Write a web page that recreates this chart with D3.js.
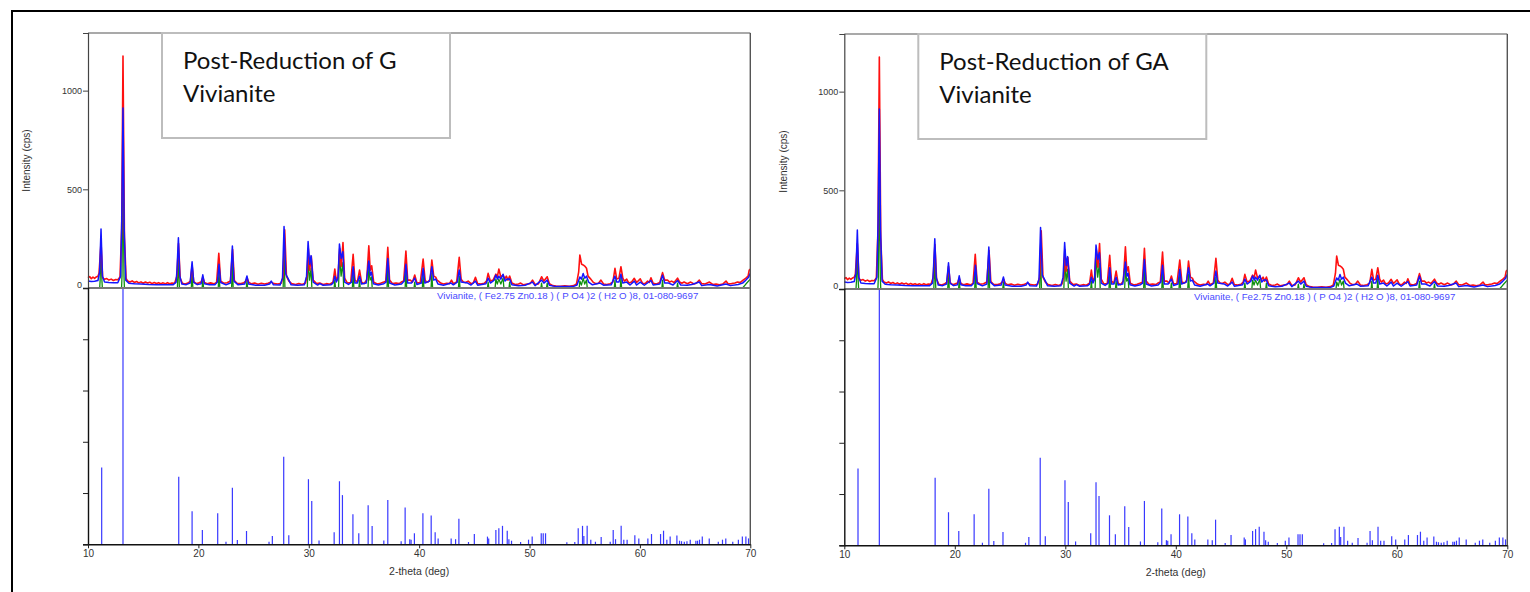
<!DOCTYPE html>
<html>
<head>
<meta charset="utf-8">
<script src="https://cdn.jsdelivr.net/npm/d3@7"></script>
<style>
  html, body { margin: 0; padding: 0; background: #fff; }
  svg { display: block; }
</style>
</head>
<body>
<svg id="chart" width="1530" height="592"></svg>
<script>
// Measured scans, [2-theta (deg), intensity (cps)]
const redScan = [
[10.0,52],[10.15,58],[10.3,47],[10.45,55],[10.6,49],[10.75,56],[10.9,60],[11.0,75],[11.18,230],[11.33,52],[11.5,44],[11.7,48],[11.9,40],[12.1,45],[12.3,38],[12.5,43],[12.7,42],[12.9,55],[13.05,300],[13.17,1175],[13.3,260],[13.45,48],[13.6,35],[13.8,30],[14.0,36],[14.2,28],[14.4,33],[14.6,26],[14.8,31],[15.0,24],[15.2,30],[15.4,25],[15.6,29],[15.8,22],[16.0,28],[16.2,23],[16.4,27],[16.6,22],[16.8,26],[17.0,21],[17.2,27],[17.4,22],[17.6,25],[17.85,24],[18.05,60],[18.2,225],[18.35,50],[18.55,24],[18.8,20],[19.05,25],[19.28,35],[19.43,115],[19.58,32],[19.8,22],[20.05,26],[20.25,30],[20.4,55],[20.55,28],[20.8,22],[21.1,26],[21.4,21],[21.65,28],[21.85,176],[22.02,35],[22.3,24],[22.6,27],[22.9,35],[23.1,195],[23.26,38],[23.5,24],[23.8,22],[24.1,26],[24.3,35],[24.42,50],[24.55,30],[24.8,21],[25.1,25],[25.4,19],[25.7,24],[26.0,20],[26.3,24],[26.6,30],[26.85,22],[27.2,20],[27.5,24],[27.68,60],[27.82,295],[27.98,60],[28.2,35],[28.45,22],[28.8,18],[29.1,23],[29.4,18],[29.7,25],[29.84,60],[29.96,200],[30.08,90],[30.23,160],[30.4,40],[30.7,22],[31.0,25],[31.3,18],[31.6,22],[31.9,19],[32.2,30],[32.36,96],[32.5,35],[32.65,60],[32.8,200],[32.95,110],[33.1,230],[33.25,50],[33.5,25],[33.8,28],[34.02,171],[34.18,40],[34.4,30],[34.6,91],[34.78,30],[35.0,22],[35.25,40],[35.44,214],[35.57,90],[35.7,113],[35.88,30],[36.2,20],[36.5,24],[36.8,30],[36.98,35],[37.16,206],[37.32,40],[37.6,22],[37.9,25],[38.2,22],[38.38,30],[38.6,35],[38.8,187],[38.96,40],[39.2,40],[39.4,30],[39.6,66],[39.8,25],[40.1,28],[40.36,147],[40.55,35],[40.8,30],[41.0,45],[41.15,142],[41.32,60],[41.5,55],[41.62,40],[41.75,35],[41.95,25],[42.2,20],[42.5,24],[42.75,22],[42.93,40],[43.1,22],[43.4,30],[43.63,155],[43.8,45],[44.0,30],[44.2,28],[44.44,35],[44.7,22],[44.9,25],[45.1,54],[45.3,22],[45.6,20],[45.9,24],[46.1,35],[46.25,74],[46.45,35],[46.7,40],[46.95,70],[47.08,55],[47.22,96],[47.4,55],[47.6,66],[47.75,45],[47.9,60],[48.05,40],[48.2,61],[48.4,25],[48.7,18],[49.0,20],[49.2,25],[49.45,16],[49.8,20],[50.05,22],[50.27,40],[50.5,18],[50.8,20],[51.09,57],[51.3,35],[51.6,57],[51.8,22],[52.1,12],[52.4,10],[52.8,9],[53.2,11],[53.6,9],[54.0,12],[54.25,20],[54.45,80],[54.56,167],[54.72,120],[54.86,117],[55.0,111],[55.16,100],[55.3,60],[55.55,45],[55.75,30],[56.0,22],[56.25,24],[56.47,40],[56.7,20],[57.0,18],[57.3,22],[57.55,30],[57.74,100],[57.9,45],[58.1,50],[58.28,108],[58.45,50],[58.6,35],[58.8,45],[59.0,25],[59.25,30],[59.49,49],[59.7,28],[60.03,46],[60.25,22],[60.5,24],[60.7,35],[60.85,28],[61.0,52],[61.2,24],[61.5,20],[61.8,28],[62.05,78],[62.25,40],[62.5,40],[62.7,30],[62.87,35],[63.1,28],[63.41,50],[63.6,30],[63.8,24],[64.0,30],[64.3,22],[64.6,30],[64.9,20],[65.1,24],[65.38,40],[65.6,22],[65.9,20],[66.3,30],[66.6,18],[66.9,20],[67.2,16],[67.5,20],[67.8,35],[68.0,20],[68.3,22],[68.6,25],[68.85,30],[69.1,28],[69.35,40],[69.6,50],[69.8,60],[69.9,91],[70.0,95]
];

const blueScan = [
[10.0,35],[10.3,33],[10.6,34],[10.9,38],[11.05,80],[11.18,299],[11.31,60],[11.5,30],[11.9,28],[12.3,27],[12.7,27],[12.95,60],[13.06,350],[13.17,912],[13.28,300],[13.42,40],[13.7,24],[14.2,21],[14.8,20],[15.5,18],[16.2,17],[17.0,16],[17.7,16],[17.98,30],[18.06,90],[18.19,255],[18.32,60],[18.5,20],[18.9,17],[19.25,25],[19.43,133],[19.58,28],[19.9,17],[20.25,22],[20.4,67],[20.55,22],[21.0,16],[21.5,17],[21.72,30],[21.87,120],[22.02,28],[22.5,16],[22.9,25],[23.08,213],[23.22,35],[23.6,16],[24.2,20],[24.4,61],[24.55,20],[25.2,14],[26.0,14],[26.45,20],[26.6,35],[26.8,16],[27.4,15],[27.62,50],[27.76,311],[27.92,70],[28.2,40],[28.4,16],[29.0,14],[29.6,16],[29.8,60],[29.94,235],[30.08,120],[30.21,164],[30.4,30],[30.8,15],[31.0,22],[31.3,14],[32.0,16],[32.2,25],[32.36,60],[32.5,30],[32.65,50],[32.78,223],[32.94,150],[33.09,184],[33.25,30],[33.6,18],[33.88,30],[34.02,108],[34.18,25],[34.4,25],[34.6,60],[34.78,20],[35.2,25],[35.44,137],[35.57,65],[35.68,80],[35.85,22],[36.3,15],[36.8,22],[37.0,30],[37.16,150],[37.32,25],[37.8,15],[38.4,20],[38.65,35],[38.8,120],[38.96,25],[39.3,25],[39.6,50],[39.8,18],[40.2,25],[40.36,100],[40.52,25],[40.95,35],[41.15,108],[41.32,40],[41.5,45],[41.7,20],[42.2,14],[42.9,25],[43.1,16],[43.45,30],[43.63,91],[43.8,30],[44.4,25],[44.7,15],[45.1,35],[45.3,14],[46.05,22],[46.25,50],[46.45,25],[46.8,40],[46.95,66],[47.1,45],[47.22,60],[47.4,45],[47.6,70],[47.78,35],[47.95,45],[48.2,45],[48.4,16],[49.0,12],[49.6,14],[50.27,30],[50.5,12],[51.09,40],[51.3,25],[51.6,40],[51.8,14],[52.4,7],[53.2,7],[54.0,8],[54.3,15],[54.56,56],[54.7,45],[54.86,74],[55.0,50],[55.16,60],[55.35,30],[55.7,16],[56.4,25],[56.7,14],[57.4,16],[57.74,60],[57.9,30],[58.1,30],[58.28,70],[58.45,25],[58.8,30],[59.1,15],[59.5,35],[59.7,15],[60.03,30],[60.4,14],[61.0,38],[61.2,15],[61.8,20],[62.05,65],[62.25,25],[62.6,25],[63.0,15],[63.41,38],[63.7,15],[64.3,14],[64.7,18],[65.38,30],[65.6,12],[66.3,18],[67.0,10],[67.8,20],[68.2,12],[68.9,18],[69.3,25],[69.6,40],[69.85,55],[70.0,75]
];

const greenScan = [
[10.0,0],[11.06,0],[11.1,40],[11.18,190],[11.26,40],[11.3,0],[13.04,0],[13.08,60],[13.17,610],[13.26,60],[13.3,0],[18.1,0],[18.19,160],[18.28,0],[19.36,0],[19.43,85],[19.5,0],[20.34,0],[20.4,40],[20.47,0],[21.8,0],[21.87,90],[21.94,0],[23.01,0],[23.08,140],[23.15,0],[24.34,0],[24.4,35],[24.46,0],[27.68,0],[27.76,200],[27.84,0],[29.87,0],[29.94,150],[30.07,40],[30.21,100],[30.28,0],[32.3,0],[32.36,40],[32.42,0],[32.7,0],[32.78,170],[32.93,60],[33.09,130],[33.16,0],[33.95,0],[34.02,75],[34.09,0],[34.54,0],[34.6,40],[34.66,0],[35.37,0],[35.44,100],[35.56,40],[35.68,55],[35.75,0],[37.09,0],[37.16,110],[37.23,0],[38.73,0],[38.8,90],[38.87,0],[39.54,0],[39.6,30],[39.66,0],[40.29,0],[40.36,70],[40.43,0],[41.08,0],[41.15,75],[41.22,0],[43.56,0],[43.63,60],[43.7,0],[46.19,0],[46.25,30],[46.31,0],[46.88,0],[46.95,45],[47.08,20],[47.22,45],[47.4,20],[47.6,50],[47.68,0],[48.14,0],[48.2,30],[48.26,0],[51.03,0],[51.09,25],[51.15,0],[51.54,0],[51.6,25],[51.66,0],[54.5,0],[54.56,35],[54.7,15],[54.86,50],[55.0,20],[55.16,40],[55.23,0],[57.68,0],[57.74,40],[57.8,0],[58.22,0],[58.28,50],[58.34,0],[61.99,0],[62.05,40],[62.11,0],[63.35,0],[63.41,25],[63.47,0],[69.3,0],[69.6,20],[70.0,45]
];

// Reference pattern 01-080-9697 (Vivianite): positions (deg) and relative intensities (%)
const stickPos = [11.24,13.17,18.22,19.43,20.36,21.75,22.5,23.08,23.53,24.36,26.4,26.7,27.73,28.19,29.97,30.27,30.93,32.3,32.78,33.05,34.0,34.53,35.38,35.74,36.8,37.16,38.37,38.73,39.15,39.27,39.57,40.34,41.09,41.45,41.72,42.9,43.3,43.6,44.47,45.0,46.19,46.3,46.95,47.22,47.55,47.98,48.13,48.37,49.19,49.91,50.24,51.06,51.24,51.45,53.38,54.1,54.41,54.8,54.92,55.22,55.55,55.97,56.49,57.31,57.58,57.79,58.3,58.54,58.84,59.54,59.9,60.72,61.05,61.87,62.14,62.44,62.74,63.35,63.59,63.77,64.02,64.26,64.56,65.07,65.22,65.4,65.65,66.28,67.1,67.48,67.78,68.41,68.92,69.28,69.6,69.84];
const stickInt = [30,100,26.4,12.9,5.6,12.1,1,22.1,1.7,5.2,1,3.2,34.2,3.5,25.4,16.9,1.5,4.7,24.6,19.2,11.7,4.3,15.2,7.1,1.5,17.3,1.2,14.4,2,1.8,4.3,12.1,11.2,4.7,2.3,2.3,2,10,0.9,4,3,2.3,5.6,6.3,7.2,5.3,2,1.4,0.9,1.8,3,4.3,4.3,4.3,0.8,0.9,6.3,7.2,3.2,7.2,1.8,1,2.8,1,5.6,2,7.2,1.8,1.8,3.5,2.3,2.3,4,4,5.3,1.8,3,3.4,1.4,1.2,1,1.2,1.8,1.4,1.4,1.8,3,2.3,1,1.8,2.3,1,1.8,3,3,2.3];

const xTicks = [10, 20, 30, 40, 50, 60, 70];
const yTicks = [0, 500, 1000];
const refTicks = [0, 20, 40, 60, 80, 100];

const panelTitles = [
  ["Post-Reduction of G", "Vivianite"],
  ["Post-Reduction of GA", "Vivianite"]
];
const refLabel = "Vivianite, ( Fe2.75 Zn0.18 ) ( P O4 )2 ( H2 O )8, 01-080-9697";

const svg = d3.select("#chart");
svg.append("rect").attr("width", 1530).attr("height", 592).attr("fill", "#fff");

// outer frame
svg.append("line").attr("x1", 11).attr("x2", 1530).attr("y1", 11).attr("y2", 11)
  .attr("stroke", "#000").attr("stroke-width", 2);
svg.append("line").attr("x1", 12).attr("x2", 12).attr("y1", 10).attr("y2", 592)
  .attr("stroke", "#000").attr("stroke-width", 2);

function drawPanel(left, right, dy, title) {
  const top = 33 + dy, mid = 288 + dy, bottom = 544.3 + dy;
  const g = svg.append("g");

  const x = d3.scaleLinear().domain([10, 70]).range([left, right]);
  const y = d3.scaleLinear().domain([0, 1292]).range([mid, top]);
  const yRef = d3.scaleLinear().domain([0, 100]).range([bottom, mid]);

  const line = d3.line().x(d => x(d[0])).y(d => y(d[1]));

  const scans = [
    { data: greenScan, color: "#109010", w: 1.3 },
    { data: redScan, color: "#ff1010", w: 1.6 },
    { data: blueScan, color: "#1515ff", w: 1.5 }
  ];
  scans.forEach(s => {
    g.append("path").datum(s.data).attr("d", line)
      .attr("fill", "none").attr("stroke", s.color)
      .attr("stroke-width", s.w).attr("stroke-linejoin", "round");
  });

  // reference sticks
  g.append("g").selectAll("line").data(stickPos).join("line")
    .attr("x1", d => x(d)).attr("x2", d => x(d))
    .attr("y1", yRef(0)).attr("y2", (d, i) => yRef(stickInt[i]))
    .attr("stroke", "#3838ff").attr("stroke-width", 1.2);

  // frame of the intensity plot and the reference plot
  g.append("line").attr("x1", left).attr("x2", right).attr("y1", top).attr("y2", top)
    .attr("stroke", "#555").attr("stroke-width", 1.2);
  g.append("line").attr("x1", right).attr("x2", right).attr("y1", top).attr("y2", bottom)
    .attr("stroke", "#555").attr("stroke-width", 1.4);
  g.append("line").attr("x1", left).attr("x2", right).attr("y1", mid).attr("y2", mid)
    .attr("stroke", "#777").attr("stroke-width", 2.2);

  // intensity axis
  const yAxis = g.append("g").attr("transform", `translate(${left},0)`)
    .call(d3.axisLeft(y).tickValues(yTicks).tickSize(5).tickPadding(1).tickFormat(d3.format("d")));
  yAxis.select(".domain").attr("stroke", "#444").attr("stroke-width", 1.2);
  yAxis.selectAll(".tick line").attr("stroke", "#444");
  yAxis.selectAll(".tick text").attr("font-family", "Liberation Sans, Arial, sans-serif")
    .attr("font-size", 9).attr("fill", "#333")
    .attr("dy", d => d === 0 ? "-0.05em" : "0.32em");

  // reference intensity axis (unlabelled)
  const rAxis = g.append("g").attr("transform", `translate(${left},0)`)
    .call(d3.axisLeft(yRef).tickValues(refTicks).tickSize(5).tickFormat(""));
  rAxis.select(".domain").attr("stroke", "#111").attr("stroke-width", 1.4);
  rAxis.selectAll(".tick line").attr("stroke", "#222");

  // 2-theta axis
  const xAxis = g.append("g").attr("transform", `translate(0,${bottom})`)
    .call(d3.axisBottom(x).tickValues(xTicks).tickSize(4).tickPadding(2).tickSizeOuter(0));
  xAxis.select(".domain").attr("stroke", "#111").attr("stroke-width", 1.6);
  xAxis.selectAll(".tick line").attr("stroke", "#222");
  xAxis.selectAll(".tick text").attr("font-family", "Liberation Sans, Arial, sans-serif")
    .attr("font-size", 10).attr("fill", "#333");

  // axis titles
  g.append("text").attr("x", x(40)).attr("y", bottom + 31)
    .attr("text-anchor", "middle").attr("font-family", "Liberation Sans, Arial, sans-serif")
    .attr("font-size", 10.5).attr("fill", "#333").text("2-theta (deg)");
  g.append("text")
    .attr("transform", `translate(${left - 61.3},${(top + mid) / 2}) rotate(-90)`)
    .attr("text-anchor", "middle").attr("dy", "0.35em")
    .attr("font-family", "Liberation Sans, Arial, sans-serif")
    .attr("font-size", 10).attr("fill", "#333").text("Intensity (cps)");

  // reference card label
  g.append("text").attr("x", right - 52).attr("y", mid + 11)
    .attr("text-anchor", "end").attr("font-family", "Liberation Sans, Arial, sans-serif")
    .attr("font-size", 9.7).attr("fill", "#4a4aff").text(refLabel);

  // sample caption box
  g.append("rect").attr("x", left + 74).attr("y", top).attr("width", 288).attr("height", 105)
    .attr("fill", "#fff").attr("stroke", "#bdbdbd").attr("stroke-width", 2);
  title.forEach((t, i) => {
    g.append("text").attr("x", left + 95).attr("y", top + 36 + i * 33)
      .attr("font-family", "Lato, 'Open Sans', sans-serif").attr("font-size", 24)
      .attr("fill", "#111").text(t);
  });
}

drawPanel(88, 750.3, 0, panelTitles[0]);
drawPanel(844.3, 1507.3, 1, panelTitles[1]);
</script>
</body>
</html>
